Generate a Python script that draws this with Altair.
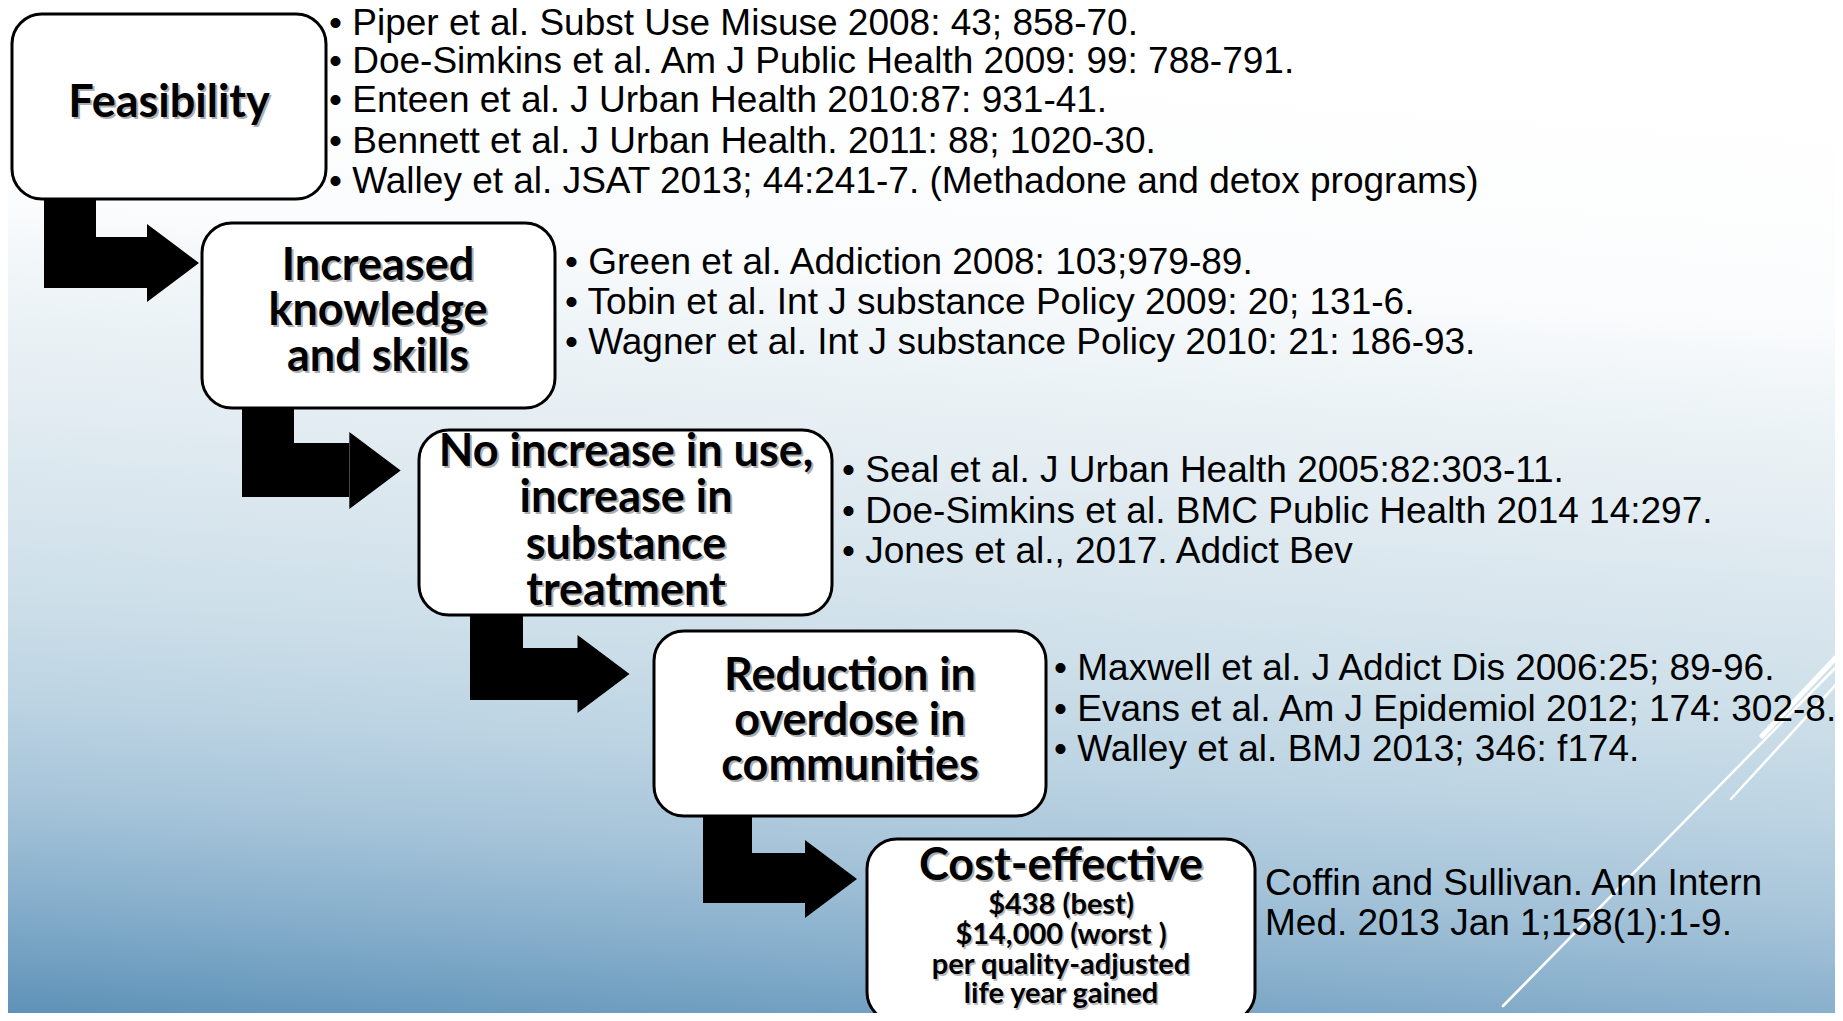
import altair as alt
import pandas as pd

# ---------------- data (reference pixel coordinates) ----------------
# flow boxes
box_x0 = [12, 202, 419, 654, 867]
box_x1 = [326, 555, 832, 1046, 1255]
box_y0 = [14, 223, 430, 631, 839]
box_y1 = [199, 408, 615, 816, 1022]

# elbow arrows between boxes
arrow_stem_x0 = [44, 242, 470, 703]
arrow_stem_x1 = [96, 294, 523, 752]
arrow_bar_y0 = [237, 443, 648, 853]
arrow_bar_y1 = [288, 497, 700, 903]
arrow_head_x0 = [147, 347, 576, 804]
arrow_head_tip = [199, 403, 631, 858]
arrow_head_y0 = [224, 432, 635, 840]
arrow_head_y1 = [302, 509, 713, 918]

# headings inside boxes
heading_lines = ["Feasibility",
                 "Increased", "knowledge", "and skills",
                 "No increase in use,", "increase in", "substance", "treatment",
                 "Reduction in", "overdose in", "communities",
                 "Cost-effective"]
heading_x = [169, 378, 378, 378, 626, 626, 626, 626, 850, 850, 850, 1061]
heading_y = [103, 266, 311, 357, 452, 498, 545, 591, 676, 721, 766, 866]

detail_lines = ["$438 (best)", "$14,000 (worst )", "per quality-adjusted", "life year gained"]
detail_x = [1061, 1061, 1061, 1061]
detail_y = [905, 935, 965, 994]

# references
ref_lines = [
    "• Piper et al. Subst Use Misuse 2008: 43; 858-70.",
    "• Doe-Simkins et al. Am J Public Health 2009: 99: 788-791.",
    "• Enteen et al. J Urban Health 2010:87: 931-41.",
    "• Bennett et al. J Urban Health. 2011: 88; 1020-30.",
    "• Walley et al. JSAT 2013; 44:241-7. (Methadone and detox programs)",
    "• Green et al. Addiction 2008: 103;979-89.",
    "• Tobin et al. Int J substance Policy 2009: 20; 131-6.",
    "• Wagner et al. Int J substance Policy 2010: 21: 186-93.",
    "• Seal et al. J Urban Health 2005:82:303-11.",
    "• Doe-Simkins et al. BMC Public Health 2014 14:297.",
    "• Jones et al., 2017. Addict Bev",
    "• Maxwell et al. J Addict Dis 2006:25; 89-96.",
    "• Evans et al. Am J Epidemiol 2012; 174: 302-8.",
    "• Walley et al. BMJ 2013; 346: f174.",
    "Coffin and Sullivan. Ann Intern",
    "Med. 2013 Jan 1;158(1):1-9.",
]
ref_x = [329] * 5 + [565] * 3 + [842] * 3 + [1054] * 3 + [1265] * 2
ref_y = [24, 62, 101, 142, 182,
         263, 303, 343,
         471, 512, 552,
         669, 710, 750,
         884, 924]

# decorative white diagonal strokes
deco_x0 = [1503, 1731, 1762]
deco_y0 = [1006, 799, 736]
deco_x1 = [1843, 1843, 1843]
deco_y1 = [660, 677, 650]
deco_w = [2.5, 2.5, 5]

page_x = [8, 1835]
page_y = [8, 1013]

# ---------------- tables ----------------
boxes = pd.DataFrame({"x0": box_x0, "x1": box_x1, "y0": box_y0, "y1": box_y1})

stems = pd.DataFrame({
    "x0": arrow_stem_x0, "x1": arrow_stem_x1,
    "y0": [box_y1[i] - 6 for i in range(len(arrow_stem_x0))],
    "y1": arrow_bar_y1,
})
bars = pd.DataFrame({
    "x0": arrow_stem_x0, "x1": [h + 2 for h in arrow_head_x0],
    "y0": arrow_bar_y0, "y1": arrow_bar_y1,
})
heads = pd.DataFrame({
    "x": [(a + b) / 2 for a, b in zip(arrow_head_x0, arrow_head_tip)],
    "y": [(a + b) / 2 for a, b in zip(arrow_head_y0, arrow_head_y1)],
    "s": [(b - a) ** 2 for a, b in zip(arrow_head_y0, arrow_head_y1)],
})

headings = pd.DataFrame({"t": heading_lines, "x": heading_x, "y": heading_y})
details = pd.DataFrame({"t": detail_lines, "x": detail_x, "y": detail_y})
refs = pd.DataFrame({"t": ref_lines, "x": ref_x, "y": ref_y})
deco = pd.DataFrame({"x0": deco_x0, "y0": deco_y0, "x1": deco_x1, "y1": deco_y1, "w": deco_w})
page = pd.DataFrame({"x0": [page_x[0]], "x1": [page_x[1]], "y0": [page_y[0]], "y1": [page_y[1]]})

W = page_x[1] - page_x[0]
H = page_y[1] - page_y[0]
xs = alt.Scale(domain=page_x, nice=False, zero=False)
ys = alt.Scale(domain=page_y, nice=False, zero=False, reverse=True)


def X(f):
    return alt.X(f, type="quantitative", scale=xs, axis=None)


def Y(f):
    return alt.Y(f, type="quantitative", scale=ys, axis=None)


grad = alt.LinearGradient(
    gradient="linear",
    x1=0.12, y1=0, x2=0, y2=1,
    stops=[
        alt.GradientStop(color="#ffffff", offset=0),
        alt.GradientStop(color="#fbfcfd", offset=0.2),
        alt.GradientStop(color="#eef4f7", offset=0.29),
        alt.GradientStop(color="#e4edf2", offset=0.39),
        alt.GradientStop(color="#d9e6ee", offset=0.49),
        alt.GradientStop(color="#cddfe9", offset=0.59),
        alt.GradientStop(color="#bdd4e3", offset=0.69),
        alt.GradientStop(color="#a6c4d9", offset=0.79),
        alt.GradientStop(color="#86aecb", offset=0.89),
        alt.GradientStop(color="#5e92b7", offset=1),
    ],
)

bg = alt.Chart(page).mark_rect(fill=grad, strokeWidth=0, clip=True).encode(
    x=X("x0"), x2="x1", y=Y("y0"), y2="y1")

lines = alt.Chart(deco).mark_rule(color="white", strokeCap="round", clip=True).encode(
    x=X("x0"), y=Y("y0"), x2="x1", y2="y1",
    strokeWidth=alt.StrokeWidth("w:Q", scale=None))

stem_layer = alt.Chart(stems).mark_rect(color="black", clip=True).encode(
    x=X("x0"), x2="x1", y=Y("y0"), y2="y1")
bar_layer = alt.Chart(bars).mark_rect(color="black", clip=True).encode(
    x=X("x0"), x2="x1", y=Y("y0"), y2="y1")
head_layer = alt.Chart(heads).mark_point(
    shape="M-0.667,-1L0.667,0L-0.667,1Z", filled=True, color="black", opacity=1,
    strokeWidth=0, clip=True).encode(
    x=X("x"), y=Y("y"), size=alt.Size("s:Q", scale=None))

box_layer = alt.Chart(boxes).mark_rect(
    fill="white", stroke="black", strokeWidth=3, cornerRadius=30, clip=True).encode(
    x=X("x0"), x2="x1", y=Y("y0"), y2="y1")

head_font = dict(font="Lato", fontWeight="bold", align="center", baseline="middle")

head_shadow = alt.Chart(headings).mark_text(
    fontSize=45, color="#7a7a7a", opacity=0.6, dx=2, dy=2, **head_font).encode(
    x=X("x"), y=Y("y"), text="t:N")
head_text = alt.Chart(headings).mark_text(fontSize=45, color="black", **head_font).encode(
    x=X("x"), y=Y("y"), text="t:N")

det_shadow = alt.Chart(details).mark_text(
    fontSize=29, color="#7a7a7a", opacity=0.5, dx=1.5, dy=1.5, clip=True, **head_font).encode(
    x=X("x"), y=Y("y"), text="t:N")
det_text = alt.Chart(details).mark_text(fontSize=29, color="black", clip=True, **head_font).encode(
    x=X("x"), y=Y("y"), text="t:N")

ref_text = alt.Chart(refs).mark_text(
    font="Liberation Sans", fontSize=37, color="black", align="left", baseline="middle").encode(
    x=X("x"), y=Y("y"), text="t:N")

chart = alt.layer(
    bg, lines, stem_layer, bar_layer, head_layer, box_layer,
    head_shadow, head_text, det_shadow, det_text, ref_text
).properties(
    width=W, height=H, padding=0, autosize=alt.AutoSizeParams(type="none")
).configure_view(stroke=None)

chart.save("out.html", embed_options={"renderer": "svg", "actions": False})
